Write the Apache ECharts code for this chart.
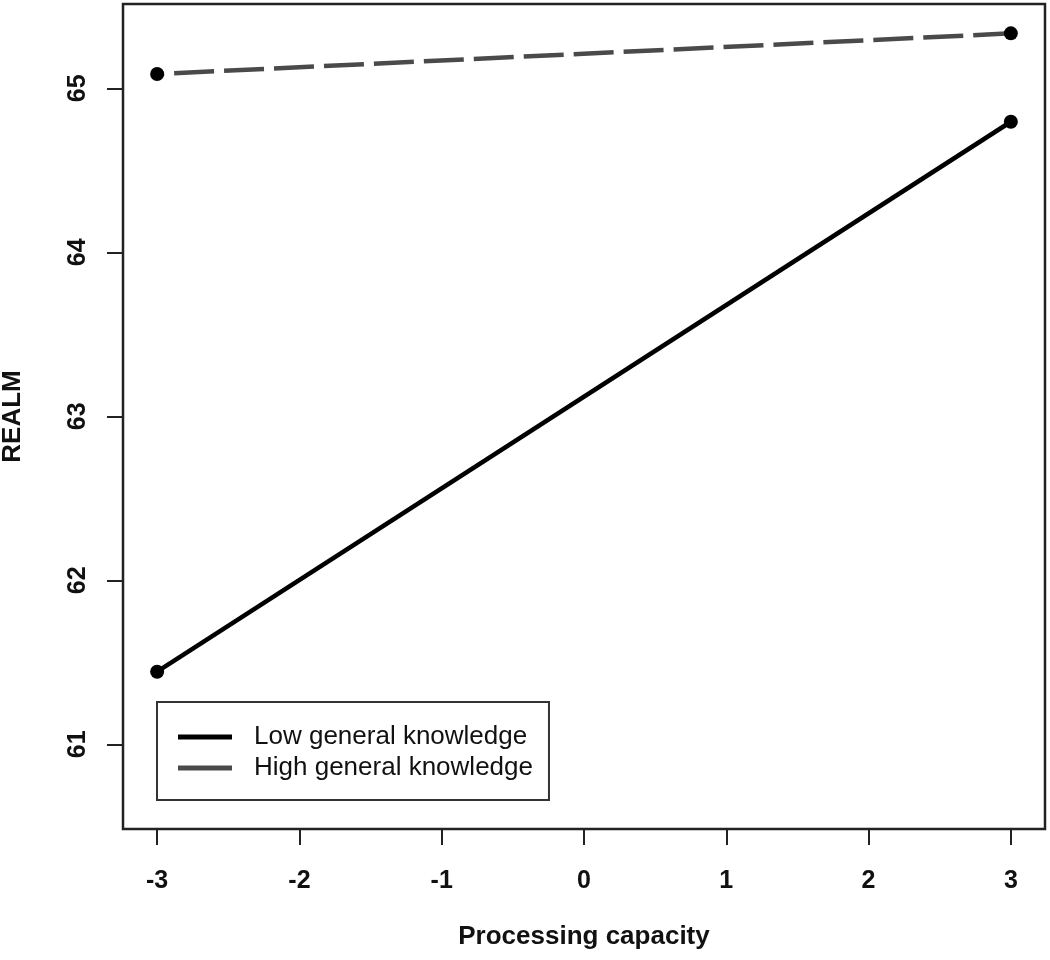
<!DOCTYPE html>
<html>
<head>
<meta charset="utf-8">
<script src="https://cdn.jsdelivr.net/npm/echarts@6/dist/echarts.min.js"></script>
<style>
html,body{margin:0;padding:0;background:#fff;}
#chart{width:1050px;height:960px;}
</style>
</head>
<body>
<div id="chart"></div>
<script>
// Data
const xValues = [-3, 3];
const lowKnowledge = [61.443, 64.796];
const highKnowledge = [65.087, 65.335];
const seriesNames = ['Low general knowledge', 'High general knowledge'];
const xTicks = [-3, -2, -1, 0, 1, 2, 3];
const yTicks = [61, 62, 63, 64, 65];
const xTitle = 'Processing capacity';
const yTitle = 'REALM';

const FONT = '"Liberation Sans", Arial, Helvetica, sans-serif';

const chart = echarts.init(document.getElementById('chart'), null, {renderer: 'canvas'});

const option = {
  backgroundColor: '#fff',
  animation: false,
  grid: {
    left: 123, right: 5, top: 4, bottom: 131,
    containLabel: false,
    outerBoundsMode: 'none',
    show: true, borderColor: '#222', borderWidth: 2.5, backgroundColor: 'transparent'
  },
  legend: {
    orient: 'vertical',
    left: 157, top: 702,
    padding: [22, 16, 19, 21],
    itemGap: 5,
    itemWidth: 54, itemHeight: 5,
    icon: 'rect',
    borderColor: '#333', borderWidth: 2, borderRadius: 0,
    textStyle: {fontFamily: FONT, fontSize: 26, color: '#111', padding: [0, 0, 0, 17]},
    data: [
      {name: seriesNames[0], itemStyle: {color: '#000'}},
      {name: seriesNames[1], itemStyle: {color: '#4a4a4a'}}
    ]
  },
  xAxis: {
    type: 'value',
    min: -3.24, max: 3.24,
    name: xTitle,
    nameLocation: 'middle',
    nameGap: 95,
    nameTextStyle: {fontFamily: FONT, fontSize: 26, fontWeight: 'bold', color: '#111'},
    axisLine: {show: false, onZero: false},
    splitLine: {show: false},
    axisTick: {show: true, inside: false, length: 16, lineStyle: {color: '#222', width: 2}, customValues: xTicks},
    axisLabel: {show: true, customValues: xTicks, margin: 40, fontFamily: FONT, fontSize: 25, fontWeight: 'bold', color: '#111'}
  },
  yAxis: {
    type: 'value',
    min: 60.484, max: 65.514,
    name: yTitle,
    nameLocation: 'middle',
    nameGap: 97,
    nameRotate: 90,
    nameTextStyle: {fontFamily: FONT, fontSize: 26, fontWeight: 'bold', color: '#111'},
    axisLine: {show: false, onZero: false},
    splitLine: {show: false},
    axisTick: {show: true, inside: false, length: 16, lineStyle: {color: '#222', width: 2}, customValues: yTicks},
    axisLabel: {show: true, customValues: yTicks, rotate: 90, margin: 32, fontFamily: FONT, fontSize: 25, fontWeight: 'bold', color: '#111'}
  },
  series: [
    {
      name: seriesNames[0],
      type: 'line',
      data: xValues.map((x, i) => [x, lowKnowledge[i]]),
      symbol: 'circle', symbolSize: 14,
      itemStyle: {color: '#000'},
      lineStyle: {color: '#000', width: 4.5, type: 'solid'},
      z: 3
    },
    {
      name: seriesNames[1],
      type: 'line',
      data: xValues.map((x, i) => [x, highKnowledge[i]]),
      symbol: 'circle', symbolSize: 14,
      itemStyle: {color: '#000'},
      lineStyle: {color: '#4a4a4a', width: 4.5, type: [40, 10], dashOffset: 33},
      z: 3
    }
  ]
};
chart.setOption(option);
</script>
</body>
</html>
